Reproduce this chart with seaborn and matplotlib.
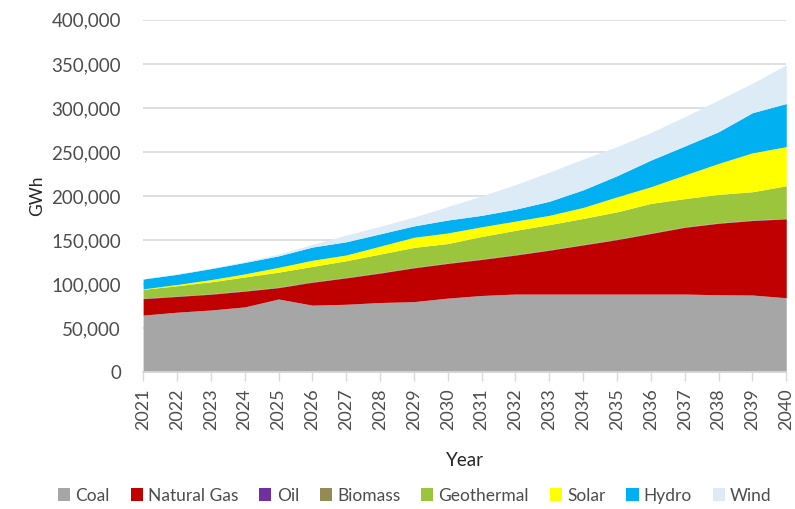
import pandas as pd
import numpy as np
import seaborn as sns
from matplotlib import pyplot as plt
from matplotlib.ticker import FuncFormatter
from matplotlib.patches import Patch

# data (GWh per source)
years = list(range(2021, 2041))
coal = [64700, 68000, 70500, 74000, 83000, 76000, 77000, 79000, 80000, 84000,
        87000, 88600, 88600, 88600, 88600, 88600, 88600, 87800, 87500, 84400]
natural_gas = [18700, 17900, 17900, 17900, 12900, 26000, 30000, 33400, 38400, 39400,
               40900, 44300, 49800, 55800, 61800, 68800, 75800, 81200, 84600, 89600]
oil = [400, 400, 400, 400, 400, 400, 400, 400, 400, 400,
       400, 400, 400, 400, 400, 400, 400, 400, 400, 400]
biomass = [200, 200, 200, 200, 200, 200, 200, 200, 200, 200,
           200, 200, 200, 200, 200, 200, 200, 200, 200, 200]
geothermal = [10000, 11500, 13500, 15500, 17000, 17400, 18900, 21000, 22600, 22000,
              25500, 27500, 28500, 29500, 31000, 33600, 32000, 32200, 32100, 37000]
solar = [500, 1500, 2500, 3500, 5500, 7000, 6500, 9000, 11500, 12000,
         11000, 10500, 10500, 12500, 17000, 18900, 26800, 35200, 44200, 44400]
hydro = [11200, 11500, 12500, 13000, 13000, 15000, 15000, 14000, 12900, 14700,
         13000, 13500, 16000, 20000, 24000, 30300, 32900, 36000, 45600, 49000]
wind = [300, 500, 500, 1000, 2000, 3000, 7600, 8500, 10000, 15300,
        22000, 28000, 33000, 35000, 33000, 31200, 33300, 36000, 33400, 44000]

labels = ["Coal", "Natural Gas", "Oil", "Biomass", "Geothermal", "Solar", "Hydro", "Wind"]
colors = ["#A6A6A6", "#C00000", "#7030A0", "#948A54", "#9BC53D", "#FFFF00", "#00B0F0", "#DDEBF7"]

df = pd.DataFrame({"Year": years, "Coal": coal, "Natural Gas": natural_gas, "Oil": oil,
                   "Biomass": biomass, "Geothermal": geothermal, "Solar": solar,
                   "Hydro": hydro, "Wind": wind})

sns.set_theme(style="whitegrid")
plt.rcParams['font.family'] = ['Lato', 'DejaVu Sans']

fig, ax = plt.subplots(figsize=(7.95, 5.09), dpi=100)
fig.subplots_adjust(left=0.18, right=0.989, top=0.961, bottom=0.269)

ax.stackplot(df["Year"], [df[c] for c in labels], colors=colors, linewidth=0)

ax.set_xlim(2021, 2040)
ax.set_ylim(0, 400000)
ax.set_yticks(np.arange(0, 400001, 50000))
ax.yaxis.set_major_formatter(FuncFormatter(lambda v, p: f"{int(v):,}"))
ax.set_xticks(years)
ax.set_xticklabels([str(y) for y in years], rotation=90)

ax.grid(axis="y", color="#D9D9D9", linewidth=1.2)
ax.grid(axis="x", visible=False)
ax.set_axisbelow(True)
for s in ["top", "right", "left"]:
    ax.spines[s].set_visible(False)
ax.spines["bottom"].set_color("#D9D9D9")
ax.tick_params(axis="x", length=6.5, color="#D9D9D9", width=1, direction="out", bottom=True,
               labelsize=13, labelcolor="#4D4D4D", pad=5)
ax.tick_params(axis="y", length=0, labelsize=13.5, labelcolor="#4D4D4D", pad=16)

ax.set_xlabel("Year", fontsize=13.5, color="#262626", labelpad=16)
ax.set_ylabel("GWh", fontsize=12.5, color="#262626", labelpad=4)

handles = [Patch(facecolor=c, edgecolor="none", label=l) for l, c in zip(labels, colors)]
fig.legend(handles=handles, loc="lower center", bbox_to_anchor=(0.522, -0.02), ncol=8,
           frameon=False, fontsize=12.5, handlelength=0.7, handleheight=0.7,
           handletextpad=0.3, columnspacing=1.2, labelcolor="#4D4D4D")

plt.savefig("out.png", dpi=100)
